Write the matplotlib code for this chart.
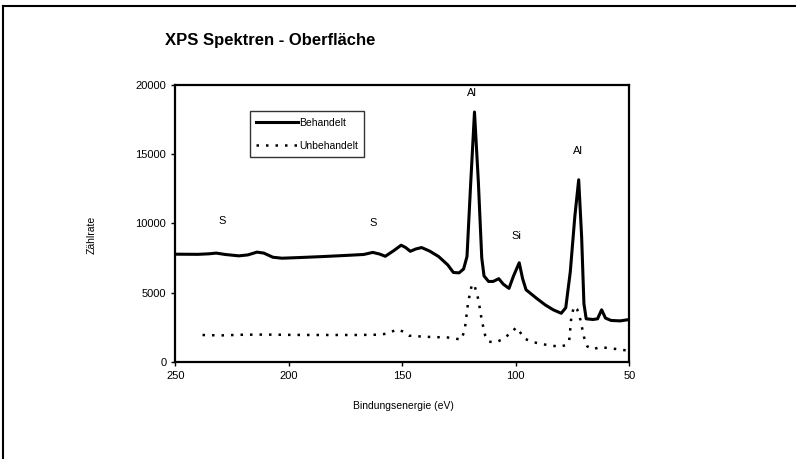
import matplotlib
matplotlib.use("Agg")
import matplotlib.pyplot as plt
from matplotlib.lines import Line2D

plt.rcParams['font.family'] = ['Liberation Sans', 'DejaVu Sans']

title = "XPS Spektren - Oberfläche"
xlabel = "Bindungsenergie (eV)"
ylabel = "Zählrate"
series_names = ["Behandelt", "Unbehandelt"]

behandelt_e = [249, 240, 235, 232, 228, 222, 218, 214, 211, 207, 203, 195, 185, 175, 167, 163, 160, 157.5,
               154, 150.5, 148.5, 146.5, 144, 141.5, 138, 134, 130, 127.5, 125, 123, 121.5, 120, 118.2,
               116.5, 115, 114, 112, 110, 107.5, 105.5, 103, 101, 98.5, 97, 95.5, 91, 87, 83.5, 80, 78,
               76, 74, 72.3, 71, 70, 69, 66, 64, 62.2, 60.5, 58, 54, 50]
behandelt_i = [7770, 7760, 7800, 7850, 7750, 7650, 7720, 7920, 7850, 7550, 7480, 7530, 7600, 7680, 7750, 7900, 7780, 7620,
               8000, 8420, 8250, 7980, 8150, 8250, 8000, 7600, 7000, 6450, 6420, 6700, 7600, 12500, 18050,
               13000, 7500, 6200, 5800, 5800, 6000, 5600, 5300, 6200, 7150, 6000, 5200, 4600, 4100, 3750, 3500, 3900,
               6500, 10500, 13150, 9000, 4200, 3100, 3050, 3100, 3750, 3150, 2980, 2950, 3050]

unbehandelt_e = [238, 230, 220, 210, 200, 190, 180, 170, 160, 156, 152.5, 150, 147, 140, 130, 126, 124, 122.5,
                 121, 119.3, 118, 116.5, 115, 113.5, 112, 109, 106, 102, 99.8, 98, 96, 92, 86, 80.5, 78, 76.5,
                 75.5, 74.3, 73, 71.5, 70, 68.5, 66, 63, 60, 55, 50.5]
unbehandelt_i = [1930, 1900, 1950, 1960, 1940, 1930, 1930, 1930, 1950, 2050, 2340, 2200, 1880, 1800, 1750, 1650, 1600, 2300,
                 4300, 5620, 5400, 4500, 3000, 1900, 1450, 1400, 1600, 2100, 2480, 2100, 1650, 1400, 1200, 1080, 1200, 1500,
                 3300, 4000, 3800, 3000, 1800, 1100, 900, 1050, 1000, 900, 800]

peak_labels = ["S", "S", "Al", "Si", "Al"]
peak_label_e = [229.5, 163, 119.4, 99.6, 72.6]
peak_label_i = [10150, 10000, 19450, 9050, 15250]

x_ticks = [250, 200, 150, 100, 50]
y_ticks = [0, 5000, 10000, 15000, 20000]

fig = plt.figure(figsize=(7.96, 4.59), dpi=100)
ax = fig.add_axes([0.2202, 0.212, 0.5704, 0.6028])

ax.plot(behandelt_e, behandelt_i, color='black', lw=2.2, solid_joinstyle='round', label=series_names[0])
ax.plot(unbehandelt_e, unbehandelt_i, color='black', lw=1.8, linestyle=(0, (1.0, 2.8)), label=series_names[1])

ax.set_xlim(250, 50)
ax.set_ylim(0, 20000)
ax.set_xticks(x_ticks)
ax.set_yticks(y_ticks)
ax.tick_params(axis='both', labelsize=8, direction='out', length=3, width=1, top=False, right=False)
for s in ax.spines.values():
    s.set_linewidth(1.6)
    s.set_color('black')

for lab, e, i in zip(peak_labels, peak_label_e, peak_label_i):
    ax.text(e, i, lab, fontsize=8, ha='center', va='center')

leg = ax.legend(loc='upper left', bbox_to_anchor=(0.1645, 0.905), fontsize=7.5, frameon=True, fancybox=False,
                handlelength=4.0, handletextpad=0.1, borderpad=0.6, labelspacing=1.25, borderaxespad=0)
leg.get_frame().set_edgecolor('black')
leg.get_frame().set_linewidth(1.0)

fig.text(165/796, 1 - 41/459, title, fontsize=12, fontweight='bold', ha='left', va='center')
fig.text(403/796, 1 - 406/459, xlabel, fontsize=7.5, ha='center', va='center')
fig.text(92/796, 1 - 235/459, ylabel, fontsize=7.5, rotation=90, ha='center', va='center')

fig.add_artist(Line2D([3/796, 3/796], [0, 1 - 6/459], transform=fig.transFigure, color='black', lw=1.5))
fig.add_artist(Line2D([3/796, 1], [1 - 6/459, 1 - 6/459], transform=fig.transFigure, color='black', lw=1.5))

fig.savefig("out.png", dpi=100)
